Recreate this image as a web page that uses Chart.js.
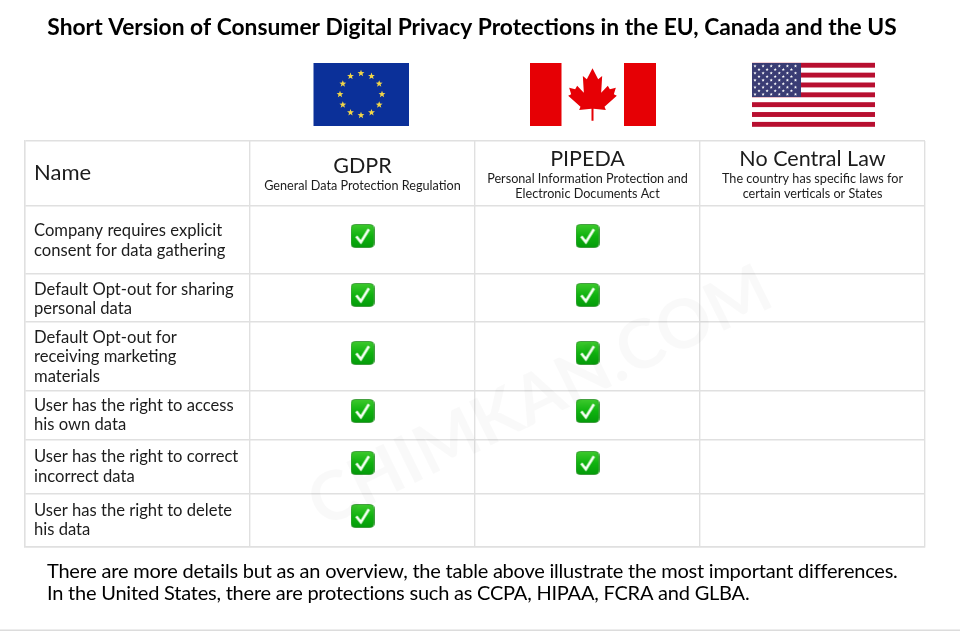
<!DOCTYPE html>
<html>
<head>
<meta charset="utf-8">
<style>
    html, body { margin: 0; background: #fff; }
    canvas { display: block; }
</style>
<script src="https://cdn.jsdelivr.net/npm/chart.js@4"></script>
</head>
<body>
<canvas id="privacyTable" width="960" height="631"></canvas>
<script>
const font = 'Lato, sans-serif';

// row heights of the table, top to bottom (header first)
let rowHeights = [65, 68, 48, 69, 49, 54, 53];
let rowEdges = [0];
rowHeights.forEach(function (h, i) { rowEdges.push(rowEdges[i] + h); });

let rows = [
    { label: ['Company requires explicit', 'consent for data gathering'], y: [90, 110], check: 95, laws: [1, 1, 0] },
    { label: ['Default Opt-out for sharing', 'personal data'], y: [149, 168], check: 154, laws: [1, 1, 0] },
    { label: ['Default Opt-out for', 'receiving marketing', 'materials'], y: [197, 216, 236], check: 212, laws: [1, 1, 0] },
    { label: ['User has the right to access', 'his own data'], y: [265, 284], check: 270, laws: [1, 1, 0] },
    { label: ['User has the right to correct', 'incorrect data'], y: [316, 336], check: 322, laws: [1, 1, 0] },
    { label: ['User has the right to delete', 'his data'], y: [370, 389], check: 375, laws: [1, 0, 0] }
];

let headers = [
    { name: 'GDPR', nameY: 166, sub: ['General Data Protection Regulation'], subY: [186] },
    { name: 'PIPEDA', nameY: 159, sub: ['Personal Information Protection and', 'Electronic Documents Act'], subY: [179, 194] },
    { name: 'No Central Law', nameY: 159, sub: ['The country has specific laws for', 'certain verticals or States'], subY: [179, 194] }
];

// column 0 is the name column, so a law in list position i sits in the middle of column i + 1
let checkData = [];
rows.forEach(function (row) {
    row.laws.forEach(function (has, i) {
        if (has) checkData.push({ x: i + 1.5, y: row.check });
    });
});

let checkIcon = function () {
    let c = document.createElement('canvas');
    c.width = 24;
    c.height = 24;
    let g = c.getContext('2d');
    let grad = g.createLinearGradient(0, 0, 0, 24);
    grad.addColorStop(0, '#3fca2e');
    grad.addColorStop(0.5, '#0fb30f');
    grad.addColorStop(1, '#049a0a');
    g.fillStyle = grad;
    g.beginPath();
    g.roundRect(0.5, 0.5, 23, 23, 4);
    g.fill();
    g.strokeStyle = '#2f8f2c';
    g.lineWidth = 0.8;
    g.stroke();
    g.strokeStyle = '#f4fff2';
    g.lineWidth = 2.6;
    g.beginPath();
    g.moveTo(5.8, 12.4);
    g.lineTo(10.4, 18.2);
    g.lineTo(18.4, 5.2);
    g.stroke();
    return c;
};

let star = function (ctx, cx, cy, r) {
    ctx.beginPath();
    for (let i = 0; i < 10; i++) {
        let a = -Math.PI / 2 + i * Math.PI / 5;
        let rr = i % 2 ? r * 0.42 : r;
        ctx.lineTo(cx + rr * Math.cos(a), cy + rr * Math.sin(a));
    }
    ctx.closePath();
    ctx.fill();
};

let drawFlags = function (ctx) {
    // EU
    ctx.fillStyle = '#0b3099';
    ctx.fillRect(313.5, 63, 95.5, 63);
    ctx.fillStyle = '#f2d648';
    for (let i = 0; i < 12; i++) {
        let a = i * Math.PI / 6;
        star(ctx, 361 + 21 * Math.cos(a), 94.3 + 21 * Math.sin(a), 3.6);
    }
    // Canada
    ctx.fillStyle = '#e60005';
    ctx.fillRect(530, 63, 31.5, 63);
    ctx.fillRect(624, 63, 32, 63);
    let leaf = [[0, 55], [17, 88], [29, 78], [26, 128], [46, 107], [52, 118], [70, 113], [64, 133], [73, 137], [36, 170], [40, 180], [3, 176], [3, 212]];
    ctx.beginPath();
    leaf.forEach(function (p) { ctx.lineTo(592.5 + p[0] / 3, 50 + p[1] / 3); });
    leaf.slice().reverse().forEach(function (p) { ctx.lineTo(592.5 - p[0] / 3, 50 + p[1] / 3); });
    ctx.closePath();
    ctx.fill();
    // US
    ctx.fillStyle = '#b80f30';
    for (let i = 0; i < 7; i++) {
        ctx.fillRect(752, 62.8 + i * 9.85, 123, 4.9);
    }
    ctx.fillStyle = '#3a3c74';
    ctx.fillRect(752, 63, 49, 34);
    ctx.fillStyle = '#fff';
    for (let r = 0; r < 9; r++) {
        let n = r % 2 ? 5 : 6;
        for (let s = 0; s < n; s++) {
            star(ctx, 755 + (r % 2 ? 4 : 0) + s * 8.1, 66 + r * 3.55, 1.7);
        }
    }
};

let tablePlugin = {
    id: 'tablePlugin',
    beforeDraw: function (chart) {
        let ctx = chart.ctx;
        ctx.save();
        ctx.fillStyle = '#fff';
        ctx.fillRect(0, 0, 960, 631);
        drawFlags(ctx);
        ctx.fillStyle = '#dcdcdc';
        ctx.fillRect(0, 629.5, 960, 1.5);
        ctx.restore();
    },
    afterDatasetsDraw: function (chart) {
        let ctx = chart.ctx;
        let xs = chart.scales.x;
        ctx.save();
        ctx.textBaseline = 'middle';

        // watermark
        ctx.save();
        ctx.translate(540, 397);
        ctx.rotate(-26.2 * Math.PI / 180);
        ctx.textAlign = 'center';
        ctx.fillStyle = 'rgba(0, 0, 0, 0.025)';
        ctx.font = 'bold 68px ' + font;
        ctx.fillText('CHIMKAN.COM', 0, 0);
        ctx.restore();

        ctx.textAlign = 'center';
        ctx.fillStyle = '#000';
        ctx.font = 'bold 22.8px ' + font;
        ctx.fillText('Short Version of Consumer Digital Privacy Protections in the EU, Canada and the US', 472, 28);

        ctx.fillStyle = '#1c1c1c';
        headers.forEach(function (h, i) {
            let cx = xs.getPixelForValue(i + 1.5);
            ctx.font = '21.5px ' + font;
            ctx.fillText(h.name, cx, h.nameY);
            ctx.font = '12.65px ' + font;
            h.sub.forEach(function (line, j) {
                ctx.fillText(line, cx, h.subY[j]);
            });
        });

        ctx.textAlign = 'left';
        ctx.font = '22px ' + font;
        ctx.fillText('Name', 34, 173);
        ctx.font = '16.6px ' + font;
        rows.forEach(function (row) {
            row.label.forEach(function (line, j) {
                ctx.fillText(line, 34, 141 + row.y[j]);
            });
        });

        ctx.fillStyle = '#000';
        ctx.font = '20px ' + font;
        ctx.letterSpacing = '-0.22px';
        ctx.fillText('There are more details but as an overview, the table above illustrate the most important differences.', 47, 572);
        ctx.fillText('In the United States, there are protections such as CCPA, HIPAA, FCRA and GLBA.', 47, 594);
        ctx.restore();
    }
};

new Chart(document.getElementById('privacyTable').getContext('2d'), {
    type: 'scatter',
    data: {
        datasets: [{
            data: checkData,
            pointStyle: checkIcon(),
            clip: false
        }]
    },
    options: {
        responsive: false,
        animation: false,
        layout: { padding: { left: 25, right: 35, top: 141, bottom: 84 } },
        plugins: { legend: { display: false }, tooltip: { enabled: false } },
        scales: {
            x: {
                type: 'linear',
                min: 0,
                max: 4,
                afterBuildTicks: function (axis) {
                    axis.ticks = [0, 1, 2, 3, 4].map(function (v) { return { value: v }; });
                },
                ticks: { display: false },
                grid: { color: '#e0e0e0', lineWidth: 1.4, drawTicks: false },
                border: { color: '#e0e0e0', width: 1.4 }
            },
            y: {
                type: 'linear',
                reverse: true,
                min: 0,
                max: rowEdges[rowEdges.length - 1],
                afterBuildTicks: function (axis) {
                    axis.ticks = rowEdges.map(function (v) { return { value: v }; });
                },
                ticks: { display: false },
                grid: { color: '#e0e0e0', lineWidth: 1.4, drawTicks: false },
                border: { color: '#e0e0e0', width: 1.4 }
            }
        }
    },
    plugins: [tablePlugin]
});
</script>
</body>
</html>
